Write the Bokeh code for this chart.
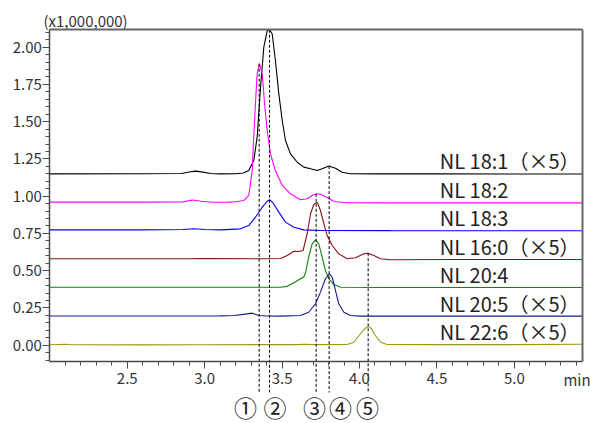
from bokeh.plotting import figure
from bokeh.models import LinearAxis, FixedTicker, Range1d
from bokeh.core.properties import value
from bokeh.embed import file_html
from bokeh.resources import INLINE

FONT = "Noto Sans CJK JP"

# ---------------- data ----------------
series_names = ["NL 18:1（×5）", "NL 18:2", "NL 18:3", "NL 16:0（×5）",
                "NL 20:4", "NL 20:5（×5）", "NL 22:6（×5）"]
series_colors = ["#000000", "#ff00ff", "#0000ff", "#8b1010",
                 "#0a860a", "#1a1a8c", "#9a9a10"]
offsets = [1.150, 0.957, 0.771, 0.578, 0.388, 0.196, 0.003]

t_181 = [2.00, 2.60, 2.85, 2.90, 2.94, 2.98, 3.04, 3.10, 3.20, 3.25, 3.285, 3.317,
         3.339, 3.361, 3.382, 3.404, 3.419, 3.436, 3.457, 3.479, 3.501, 3.522, 3.554,
         3.598, 3.640, 3.684, 3.727, 3.759, 3.802, 3.845, 3.888, 3.942, 4.10, 4.50,
         5.00, 5.44]
s_181 = [0.000, 0.001, 0.002, 0.012, 0.018, 0.013, 0.002, 0.000, 0.001, 0.006, 0.022,
         0.089, 0.246, 0.581, 0.850, 0.961, 0.966, 0.940, 0.761, 0.537, 0.358, 0.224,
         0.134, 0.078, 0.045, 0.034, 0.022, 0.034, 0.052, 0.038, 0.011, 0.001, 0.000,
         0.000, -0.001, -0.001]

t_182 = [2.00, 2.60, 2.86, 2.92, 2.98, 3.05, 3.15, 3.188, 3.253, 3.285, 3.307, 3.317,
         3.328, 3.339, 3.354, 3.372, 3.387, 3.404, 3.425, 3.457, 3.501, 3.554, 3.619,
         3.662, 3.700, 3.727, 3.750, 3.780, 3.834, 3.920, 4.20, 4.80, 5.44]
s_182 = [0.003, 0.003, 0.005, 0.018, 0.009, 0.002, 0.003, 0.004, 0.014, 0.048, 0.215,
         0.439, 0.663, 0.864, 0.932, 0.864, 0.663, 0.484, 0.328, 0.215, 0.115, 0.059,
         0.019, 0.026, 0.051, 0.059, 0.056, 0.041, 0.007, -0.001, -0.002, -0.002,
         -0.002]

t_183 = [2.00, 2.60, 2.86, 2.93, 3.00, 3.10, 3.231, 3.285, 3.328, 3.372, 3.404, 3.421,
         3.443, 3.479, 3.522, 3.576, 3.640, 3.75, 4.20, 5.44]
s_183 = [0.003, 0.003, 0.005, 0.011, 0.005, 0.003, 0.010, 0.032, 0.088, 0.155, 0.195,
         0.205, 0.182, 0.122, 0.055, 0.021, 0.003, -0.001, -0.002, -0.003]

t_160 = [2.00, 2.90, 3.00, 3.40, 3.490, 3.533, 3.576, 3.608, 3.636, 3.662, 3.684,
         3.705, 3.727, 3.748, 3.770, 3.791, 3.824, 3.866, 3.920, 3.974, 4.028, 4.054,
         4.092, 4.136, 4.200, 4.60, 5.44]
s_160 = [0.002, 0.002, 0.003, 0.002, 0.004, 0.024, 0.053, 0.051, 0.058, 0.170, 0.304,
         0.366, 0.382, 0.326, 0.237, 0.158, 0.091, 0.035, 0.002, 0.009, 0.035, 0.039,
         0.024, 0.002, -0.005, -0.003, -0.003]

t_204 = [2.00, 3.00, 3.40, 3.490, 3.533, 3.565, 3.608, 3.640, 3.652, 3.672, 3.694,
         3.716, 3.737, 3.759, 3.780, 3.802, 3.834, 3.877, 4.20, 5.44]
s_204 = [0.001, 0.001, 0.001, 0.001, 0.007, 0.024, 0.051, 0.070, 0.100, 0.203, 0.292,
         0.319, 0.292, 0.203, 0.113, 0.058, 0.019, 0.001, -0.001, -0.001]

t_205 = [2.00, 3.10, 3.188, 3.250, 3.307, 3.350, 3.40, 3.490, 3.619, 3.672, 3.716,
         3.748, 3.780, 3.806, 3.824, 3.845, 3.866, 3.899, 3.942, 4.006, 4.50, 5.44]
s_205 = [0.000, 0.001, 0.003, 0.011, 0.019, 0.003, 0.000, -0.001, 0.003, 0.025,
         0.082, 0.160, 0.250, 0.283, 0.260, 0.171, 0.082, 0.025, 0.003, -0.001,
         -0.001, -0.001]

t_226 = [2.00, 2.06, 2.10, 2.14, 2.60, 3.00, 3.40, 3.60, 3.65, 3.70, 3.920, 3.963,
         4.006, 4.038, 4.056, 4.075, 4.103, 4.136, 4.179, 4.50, 5.00, 5.44]
s_226 = [0.000, 0.002, 0.003, 0.000, -0.001, 0.000, 0.001, 0.001, 0.003, 0.001,
         0.002, 0.017, 0.074, 0.111, 0.122, 0.111, 0.062, 0.017, 0.002, 0.001, 0.001,
         0.003]

series_t = [t_181, t_182, t_183, t_160, t_204, t_205, t_226]
series_s = [s_181, s_182, s_183, s_160, s_204, s_205, s_226]

# peak markers (retention time, top of dashed line)
peak_t = [3.352, 3.419, 3.720, 3.804, 4.056]
peak_top = [1.889, 2.117, 1.016, 1.202, 0.617]
peak_labels = ["①", "②", "③", "④", "⑤"]
peak_label_x = [3.264, 3.454, 3.709, 3.877, 4.052]

x_ticks = [2.5, 3.0, 3.5, 4.0, 4.5, 5.0]
x_tick_labels = ["2.5", "3.0", "3.5", "4.0", "4.5", "5.0"]
x_minor = [round(2.0 + 0.1 * i, 1) for i in range(1, 35)]
y_ticks = [0.0, 0.25, 0.5, 0.75, 1.0, 1.25, 1.5, 1.75, 2.0]
y_tick_labels = ["0.00", "0.25", "0.50", "0.75", "1.00", "1.25", "1.50", "1.75", "2.00"]
y_minor = [round(-0.10 + 0.05 * i, 2) for i in range(0, 45)]

# ---------------- layout ----------------
x_lo, x_hi = 2.0, 5.44
y_lo, y_hi = -0.109, 2.117

p = figure(width=590, height=423,
           x_range=Range1d(1.6816, 5.4918), y_range=Range1d(-0.5255, 2.3134),
           x_axis_location=None, y_axis_location=None,
           toolbar_location=None, output_backend="svg",
           min_border=0, outline_line_color=None)
p.grid.grid_line_color = None
p.background_fill_color = "white"
p.border_fill_color = "white"

AX = "#4a4a4a"
xa = LinearAxis(fixed_location=y_lo, bounds=(x_lo, x_hi),
                ticker=FixedTicker(ticks=x_ticks, minor_ticks=x_minor),
                major_label_overrides=dict(zip(x_ticks, x_tick_labels)))
ya = LinearAxis(fixed_location=x_lo, bounds=(y_lo, y_hi),
                ticker=FixedTicker(ticks=y_ticks, minor_ticks=y_minor),
                major_label_overrides=dict(zip(y_ticks, y_tick_labels)))
for a in (xa, ya):
    a.axis_line_color = AX
    a.axis_line_width = 1.5
    a.major_tick_line_color = AX
    a.minor_tick_line_color = AX
    a.major_tick_out = 7
    a.major_tick_in = 0
    a.minor_tick_out = 4
    a.minor_tick_in = 0
    a.major_label_text_font = FONT
    a.major_label_text_font_size = "15px"
    a.major_label_text_color = "#333333"
xa.major_label_standoff = 5
ya.major_label_standoff = 1
p.add_layout(xa, "below")
p.add_layout(ya, "left")

top = LinearAxis(fixed_location=y_hi, bounds=(x_lo, x_hi), ticker=FixedTicker(ticks=[]))
right = LinearAxis(fixed_location=x_hi, bounds=(y_lo, y_hi), ticker=FixedTicker(ticks=[]))
for a in (top, right):
    a.axis_line_color = "#666666"
    a.axis_line_width = 2
    a.major_tick_line_color = None
    a.minor_tick_line_color = None
    a.major_label_text_font_size = "0px"
p.add_layout(top, "above")
p.add_layout(right, "right")

# traces
for t, s, off, col in zip(series_t, series_s, offsets, series_colors):
    p.line([x for x in t], [off + v for v in s], line_color=col, line_width=1.1)

# dashed peak markers
p.segment(x0=peak_t, y0=peak_top, x1=peak_t, y1=[-0.317] * len(peak_t),
          line_color="black", line_width=1, line_dash="3 2")

# series labels
p.text(x=[4.5186] * len(series_names), y=[o + 0.087 for o in offsets],
       text=series_names, text_font=value(FONT), text_font_size="20px",
       text_color="#222222", text_baseline="middle", text_align="left")

# circled peak numbers
p.text(x=peak_label_x, y=[-0.4148] * len(peak_label_x), text=peak_labels,
       text_font=value(FONT), text_font_size="23px", text_color="#222222",
       text_baseline="middle", text_align="center")

# unit label and axis title
p.text(x=[1.959], y=[2.179], text=["(x1,000,000)"], text_font=value(FONT),
       text_font_size="15px", text_color="#333333", text_baseline="middle",
       text_align="left")
p.text(x=[5.317], y=[-0.230], text=["min"], text_font=value(FONT),
       text_font_size="15px", text_color="#333333", text_baseline="middle",
       text_align="left")

open("out.html", "w").write(file_html(p, INLINE))
